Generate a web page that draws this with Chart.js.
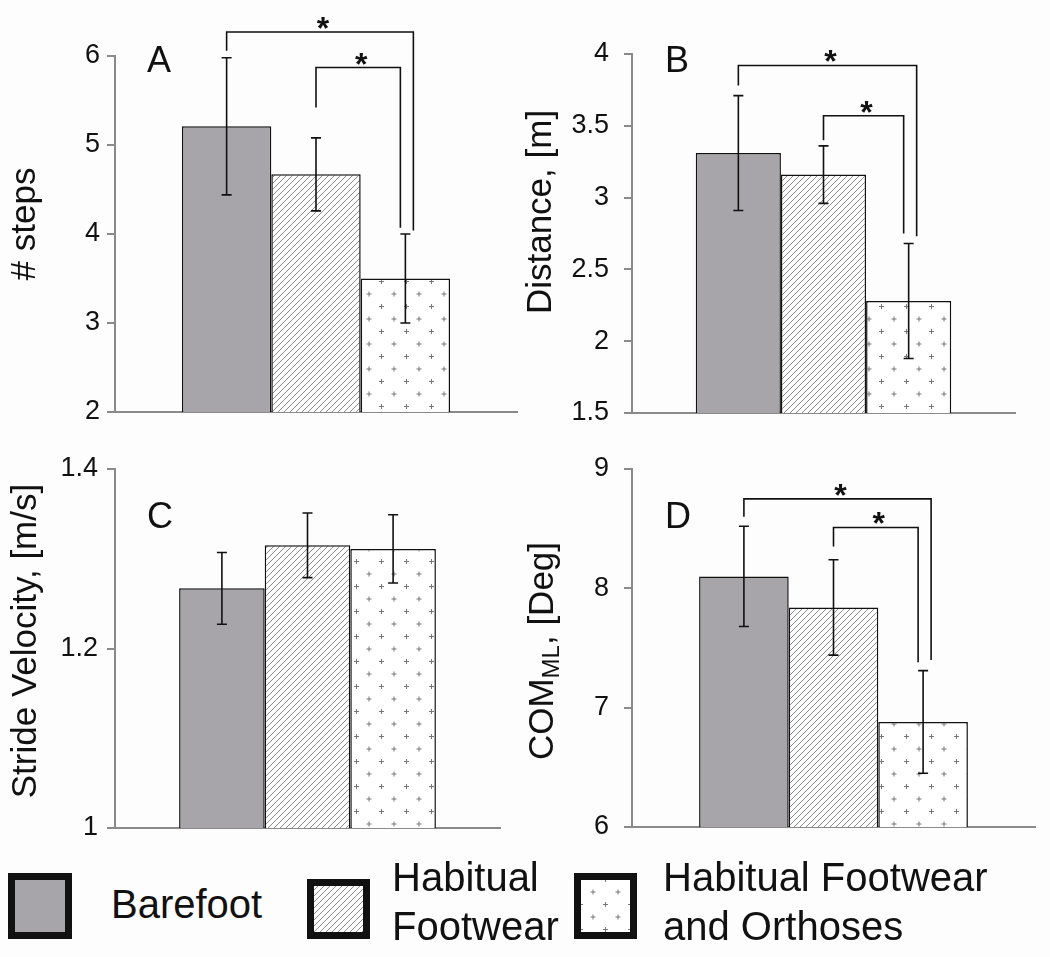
<!DOCTYPE html>
<html>
<head>
<meta charset="utf-8">
<script src="https://cdn.jsdelivr.net/npm/chart.js@4.4.0/dist/chart.umd.min.js"></script>
<style>
    body { margin: 0; background: #fdfdfd; width: 1050px; height: 957px; position: relative; overflow: hidden;
           font-family: "Liberation Sans", Arial, sans-serif; color: #111; }
    .panel { position: absolute; }
    .leg-box { position: absolute; }
    .leg-text { position: absolute; font-size: 40px; line-height: 49px; white-space: nowrap; }
</style>
</head>
<body>
<!-- each panel reaches 40px below its x axis so the tick label padding fits -->
<div class="panel" style="left:0;top:0;width:525px;height:452px"><canvas id="chartA"></canvas></div>
<div class="panel" style="left:525px;top:0;width:525px;height:453px"><canvas id="chartB"></canvas></div>
<div class="panel" style="left:0;top:430px;width:525px;height:438px"><canvas id="chartC"></canvas></div>
<div class="panel" style="left:525px;top:430px;width:525px;height:437px"><canvas id="chartD"></canvas></div>
<div id="legend"></div>

<script>
// conditions (one bar each per panel)
const conditions = ['Barefoot', 'Habitual Footwear', 'Habitual Footwear and Orthoses'];
const legendLines = [['Barefoot'], ['Habitual', 'Footwear'], ['Habitual Footwear', 'and Orthoses']];

// A - number of steps
const stepsMean = [5.21, 4.67, 3.50];
const stepsSD = [0.77, 0.41, 0.50];
const stepsTicks = [2, 3, 4, 5, 6];
// [from, to, bracket height, left leg end, right leg end]
const stepsSig = [[0, 2, 6.27, 6.06, 4.04], [1, 2, 5.87, 5.42, 4.07]];

// B - distance
const distMean = [3.31, 3.16, 2.28];
const distSD = [0.40, 0.20, 0.40];
const distTicks = [1.5, 2, 2.5, 3, 3.5, 4];
const distSig = [[0, 2, 3.92, 3.78, 2.73], [1, 2, 3.57, 3.40, 2.75]];

// C - stride velocity
const velMean = [1.267, 1.315, 1.311];
const velSD = [0.040, 0.036, 0.038];
const velTicks = [1, 1.2, 1.4];
const velSig = [];

// D - COM ML
const comMean = [8.10, 7.84, 6.88];
const comSD = [0.42, 0.40, 0.43];
const comTicks = [6, 7, 8, 9];
const comSig = [[0, 2, 8.75, 8.60, 7.40], [1, 2, 8.51, 8.35, 7.38]];

const FONT = '"Liberation Sans", Arial, sans-serif';
const AXIS_GREY = '#8a8a8a';
const INK = '#111';

// fill patterns
function hatchPattern() {
    const c = document.createElement('canvas');
    c.width = 6; c.height = 6;
    const g = c.getContext('2d');
    g.fillStyle = '#fff';
    g.fillRect(0, 0, 6, 6);
    g.strokeStyle = '#8a8a8a';
    g.lineWidth = 1;
    g.beginPath();
    g.moveTo(-1, 7); g.lineTo(7, -1);
    g.moveTo(-1, 1); g.lineTo(1, -1);
    g.moveTo(5, 7); g.lineTo(7, 5);
    g.stroke();
    return g.createPattern(c, 'repeat');
}

function plusPattern() {
    const c = document.createElement('canvas');
    c.width = 25; c.height = 25;
    const g = c.getContext('2d');
    g.fillStyle = '#fff';
    g.fillRect(0, 0, 25, 25);
    g.strokeStyle = '#777';
    g.lineWidth = 1;
    [[6.5, 6.5], [19, 19]].forEach(([x, y]) => {
        g.beginPath();
        g.moveTo(x - 2.5, y); g.lineTo(x + 2.5, y);
        g.moveTo(x, y - 2.5); g.lineTo(x, y + 2.5);
        g.stroke();
    });
    return g.createPattern(c, 'repeat');
}

const fills = ['#a8a5aa', hatchPattern(), plusPattern()];

const panels = [
    { id: 'chartA', letter: 'A', mean: stepsMean, sd: stepsSD, ticks: stepsTicks, sig: stepsSig,
      title: [{ t: '# steps' }], pad: { top: 56, right: 8 }, yWidth: 115, tickPad: 7,
      titleAt: [25, 224], letterAt: [147, 72] },
    { id: 'chartB', letter: 'B', mean: distMean, sd: distSD, ticks: distTicks, sig: distSig,
      title: [{ t: 'Distance, [m]' }], pad: { top: 54, right: 35 }, yWidth: 107, tickPad: 15,
      titleAt: [16, 212], letterAt: [140, 72] },
    { id: 'chartC', letter: 'C', mean: velMean, sd: velSD, ticks: velTicks, sig: velSig,
      title: [{ t: 'Stride Velocity, [m/s]' }], pad: { top: 39, right: 25 }, yWidth: 115, tickPad: 9,
      titleAt: [26, 211], letterAt: [147, 98] },
    { id: 'chartD', letter: 'D', mean: comMean, sd: comSD, ticks: comTicks, sig: comSig,
      title: [{ t: 'COM' }, { t: 'ML', sub: true }, { t: ', [Deg]' }], pad: { top: 39, right: 15 }, yWidth: 107, tickPad: 15,
      titleAt: [18, 221], letterAt: [140, 98] }
];

function drawYTitle(ctx, parts, x, y) {
    ctx.save();
    ctx.translate(x, y);
    ctx.rotate(-Math.PI / 2);
    ctx.fillStyle = INK;
    ctx.textBaseline = 'middle';
    ctx.textAlign = 'left';
    const fontOf = p => (p.sub ? '24px ' : '35px ') + FONT;
    const widths = parts.map(p => { ctx.font = fontOf(p); return ctx.measureText(p.t).width; });
    let cx = -widths.reduce((s, w) => s + w, 0) / 2;
    parts.forEach((p, i) => {
        ctx.font = fontOf(p);
        ctx.fillText(p.t, cx, p.sub ? 9 : 0);
        cx += widths[i];
    });
    ctx.restore();
}

// error bars, significance brackets, panel letter and axis title
function makeAnnotations(p) {
    return {
        id: 'annotations' + p.letter,
        afterDatasetsDraw(chart) {
            const ctx = chart.ctx;
            const y = chart.scales.y;
            const centers = chart.data.datasets.map((d, i) => chart.getDatasetMeta(i).data[0].x);
            ctx.save();
            ctx.strokeStyle = INK;
            ctx.fillStyle = INK;
            ctx.lineWidth = 1.6;

            p.sd.forEach((sd, i) => {
                const x = centers[i];
                const top = y.getPixelForValue(p.mean[i] + sd);
                const bot = y.getPixelForValue(p.mean[i] - sd);
                ctx.beginPath();
                ctx.moveTo(x, top); ctx.lineTo(x, bot);
                ctx.moveTo(x - 5, top); ctx.lineTo(x + 5, top);
                ctx.moveTo(x - 5, bot); ctx.lineTo(x + 5, bot);
                ctx.stroke();
            });

            p.sig.forEach(([a, b, level, endA, endB], k) => {
                const xa = centers[a];
                const xb = centers[b] + (k === 0 ? 8 : -5);
                const yt = y.getPixelForValue(level);
                ctx.beginPath();
                ctx.moveTo(xa, y.getPixelForValue(endA));
                ctx.lineTo(xa, yt);
                ctx.lineTo(xb, yt);
                ctx.lineTo(xb, y.getPixelForValue(endB));
                ctx.stroke();
                ctx.font = 'bold 32px ' + FONT;
                ctx.textAlign = 'center';
                ctx.textBaseline = 'alphabetic';
                ctx.fillText('*', (xa + xb) / 2 + 3, yt + 7);
            });
            ctx.restore();
        },
        afterDraw(chart) {
            const ctx = chart.ctx;
            ctx.save();
            ctx.fillStyle = INK;
            ctx.font = '36px ' + FONT;
            ctx.textAlign = 'left';
            ctx.textBaseline = 'alphabetic';
            ctx.fillText(p.letter, p.letterAt[0], p.letterAt[1]);
            ctx.restore();
            drawYTitle(ctx, p.title, p.titleAt[0], p.titleAt[1]);
        }
    };
}

panels.forEach(p => {
    new Chart(document.getElementById(p.id), {
        type: 'bar',
        data: {
            labels: [''],
            datasets: conditions.map((c, i) => ({
                label: c,
                data: [p.mean[i]],
                backgroundColor: fills[i],
                borderColor: INK,
                borderWidth: 1.5,
                borderSkipped: false,
                barPercentage: 1,
                categoryPercentage: 0.667
            }))
        },
        options: {
            responsive: true,
            maintainAspectRatio: false,
            animation: false,
            layout: { padding: { top: p.pad.top, right: p.pad.right, left: 0, bottom: 0 } },
            plugins: { legend: { display: false }, tooltip: { enabled: false } },
            scales: {
                x: {
                    grid: { display: false },
                    border: { display: true, color: AXIS_GREY, width: 2 },
                    ticks: { display: false },
                    afterFit: s => { s.height = 40; }
                },
                y: {
                    min: p.ticks[0],
                    max: p.ticks[p.ticks.length - 1],
                    afterBuildTicks: s => { s.ticks = p.ticks.map(v => ({ value: v })); },
                    afterFit: s => { s.width = p.yWidth; },
                    grid: { display: true, drawOnChartArea: false, drawTicks: true, tickLength: 8, color: AXIS_GREY, lineWidth: 2 },
                    border: { display: true, color: AXIS_GREY, width: 2 },
                    ticks: {
                        padding: p.tickPad,
                        color: INK,
                        font: { family: FONT, size: 27 },
                        callback: v => String(v)
                    }
                }
            }
        },
        plugins: [makeAnnotations(p)]
    });
});

// legend
const legendBoxes = [
    { left: 8, top: 873, w: 64, h: 66, textLeft: 111, textTop: 880 },
    { left: 307, top: 879, w: 63, h: 60, textLeft: 392, textTop: 853 },
    { left: 574, top: 873, w: 63, h: 66, textLeft: 663, textTop: 853 }
];
const legend = document.getElementById('legend');
conditions.forEach((c, i) => {
    const b = legendBoxes[i];
    const cv = document.createElement('canvas');
    cv.className = 'leg-box';
    cv.width = b.w; cv.height = b.h;
    cv.style.left = b.left + 'px';
    cv.style.top = b.top + 'px';
    const g = cv.getContext('2d');
    g.fillStyle = fills[i];
    g.fillRect(0, 0, b.w, b.h);
    g.strokeStyle = INK;
    g.lineWidth = 7;
    g.strokeRect(3.5, 3.5, b.w - 7, b.h - 7);
    legend.appendChild(cv);

    const t = document.createElement('div');
    t.className = 'leg-text';
    t.style.left = b.textLeft + 'px';
    t.style.top = b.textTop + 'px';
    t.innerHTML = legendLines[i].join('<br>');
    legend.appendChild(t);
});
</script>
</body>
</html>
